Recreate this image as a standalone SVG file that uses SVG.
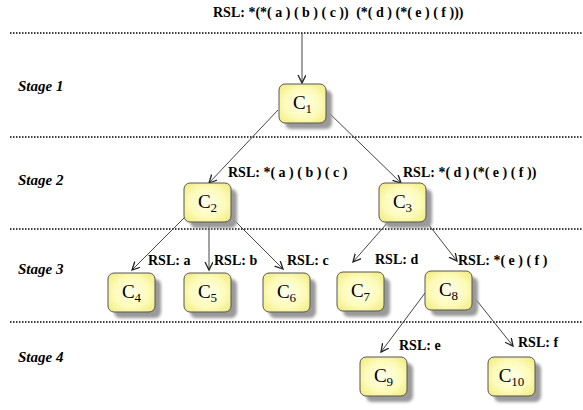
<svg xmlns="http://www.w3.org/2000/svg" width="583" height="410" viewBox="0 0 583 410">
<style>
.sep{stroke:#000;stroke-width:1.5;stroke-dasharray:1.5,1.5;fill:none}
.edge{stroke:#444;stroke-width:1;fill:none}
.box{stroke:#555;stroke-width:1}
.sh{fill:#9a9a9a}
</style>
<defs>
<radialGradient id="yg" cx="0.5" cy="0.5" r="0.7">
<stop offset="0" stop-color="#ffffee"/>
<stop offset="0.55" stop-color="#fdfbb8"/>
<stop offset="1" stop-color="#efe97a"/>
</radialGradient>
<filter id="blur" x="-20%" y="-20%" width="140%" height="140%"><feGaussianBlur stdDeviation="1.8"/></filter>
<marker id="arr" markerWidth="10" markerHeight="10" refX="8" refY="4" orient="auto" markerUnits="userSpaceOnUse">
<path d="M0,0 L8,4 L0,8" fill="none" stroke="#222" stroke-width="1.3"/>
</marker>
</defs>

<g id="separators">
<line class="sep" x1="10" y1="33" x2="583" y2="33"/>
<line class="sep" x1="10" y1="137" x2="583" y2="137"/>
<line class="sep" x1="10" y1="229" x2="583" y2="229"/>
<line class="sep" x1="10" y1="322" x2="583" y2="322"/>
</g>

<g id="stages">
<text x="18" y="91" font-family="Liberation Serif, Noto Serif, DejaVu Serif, serif" font-size="15" font-weight="bold" font-style="italic">Stage 1</text>
<text x="18" y="185" font-family="Liberation Serif, Noto Serif, DejaVu Serif, serif" font-size="15" font-weight="bold" font-style="italic">Stage 2</text>
<text x="18" y="274" font-family="Liberation Serif, Noto Serif, DejaVu Serif, serif" font-size="15" font-weight="bold" font-style="italic">Stage 3</text>
<text x="18" y="362" font-family="Liberation Serif, Noto Serif, DejaVu Serif, serif" font-size="15" font-weight="bold" font-style="italic">Stage 4</text>
</g>

<g id="title">
<text x="213" y="17" font-family="Liberation Serif, Noto Serif, DejaVu Serif, serif" font-size="14" font-weight="bold">RSL: *(*( a ) ( b ) ( c ))<tspan dx="4"> (*( d ) (*( e ) ( f )))</tspan></text>
</g>

<g id="connectors">
<line class="edge" marker-end="url(#arr)" x1="302" y1="33" x2="302" y2="83"/>
<line class="edge" marker-end="url(#arr)" x1="278" y1="110" x2="209" y2="183"/>
<line class="edge" marker-end="url(#arr)" x1="326" y1="110" x2="401" y2="183"/>
<line class="edge" marker-end="url(#arr)" x1="185" y1="217" x2="132" y2="270"/>
<line class="edge" marker-end="url(#arr)" x1="209" y1="222" x2="209" y2="270"/>
<line class="edge" marker-end="url(#arr)" x1="230" y1="216" x2="283" y2="269"/>
<line class="edge" marker-end="url(#arr)" x1="389" y1="221" x2="353" y2="262"/>
<line class="edge" marker-end="url(#arr)" x1="425" y1="220" x2="457" y2="261"/>
<line class="edge" marker-end="url(#arr)" x1="425" y1="293" x2="381" y2="352"/>
<line class="edge" marker-end="url(#arr)" x1="470" y1="292" x2="513" y2="346"/>
</g>

<g id="edge-labels">
<text x="228" y="177" font-family="Liberation Serif, Noto Serif, DejaVu Serif, serif" font-size="14" font-weight="bold">RSL: *( a ) ( b ) ( c )</text>
<text x="403" y="177" font-family="Liberation Serif, Noto Serif, DejaVu Serif, serif" font-size="14" font-weight="bold">RSL: *( d ) (*( e ) ( f ))</text>
<text x="148" y="265" font-family="Liberation Serif, Noto Serif, DejaVu Serif, serif" font-size="14" font-weight="bold">RSL: a</text>
<text x="214" y="265" font-family="Liberation Serif, Noto Serif, DejaVu Serif, serif" font-size="14" font-weight="bold">RSL: b</text>
<text x="287" y="265" font-family="Liberation Serif, Noto Serif, DejaVu Serif, serif" font-size="14" font-weight="bold">RSL: c</text>
<text x="375" y="264" font-family="Liberation Serif, Noto Serif, DejaVu Serif, serif" font-size="14" font-weight="bold">RSL: d</text>
<text x="458" y="265" font-family="Liberation Serif, Noto Serif, DejaVu Serif, serif" font-size="14" font-weight="bold">RSL: *( e ) ( f )</text>
<text x="399" y="350" font-family="Liberation Serif, Noto Serif, DejaVu Serif, serif" font-size="14" font-weight="bold">RSL: e</text>
<text x="518" y="347" font-family="Liberation Serif, Noto Serif, DejaVu Serif, serif" font-size="14" font-weight="bold">RSL: f</text>
</g>

<g id="C1"><rect class="sh" filter="url(#blur)" x="285" y="90" width="47" height="39" rx="6"/><rect class="box" fill="url(#yg)" x="279" y="84" width="47" height="39" rx="6"/><text x="302.5" y="109" font-family="Liberation Serif, Noto Serif, DejaVu Serif, serif" font-size="19" text-anchor="middle">C<tspan font-size="13" dy="4">1</tspan></text></g>
<g id="C2"><rect class="sh" filter="url(#blur)" x="190" y="189" width="47" height="39" rx="6"/><rect class="box" fill="url(#yg)" x="184" y="183" width="47" height="39" rx="6"/><text x="207.5" y="208" font-family="Liberation Serif, Noto Serif, DejaVu Serif, serif" font-size="19" text-anchor="middle">C<tspan font-size="13" dy="4">2</tspan></text></g>
<g id="C3"><rect class="sh" filter="url(#blur)" x="385" y="189" width="47" height="39" rx="6"/><rect class="box" fill="url(#yg)" x="379" y="183" width="47" height="39" rx="6"/><text x="402.5" y="208" font-family="Liberation Serif, Noto Serif, DejaVu Serif, serif" font-size="19" text-anchor="middle">C<tspan font-size="13" dy="4">3</tspan></text></g>
<g id="C4"><rect class="sh" filter="url(#blur)" x="114" y="279" width="47" height="39" rx="6"/><rect class="box" fill="url(#yg)" x="108" y="273" width="47" height="39" rx="6"/><text x="131.5" y="298" font-family="Liberation Serif, Noto Serif, DejaVu Serif, serif" font-size="19" text-anchor="middle">C<tspan font-size="13" dy="4">4</tspan></text></g>
<g id="C5"><rect class="sh" filter="url(#blur)" x="190" y="279" width="47" height="39" rx="6"/><rect class="box" fill="url(#yg)" x="184" y="273" width="47" height="39" rx="6"/><text x="207.5" y="298" font-family="Liberation Serif, Noto Serif, DejaVu Serif, serif" font-size="19" text-anchor="middle">C<tspan font-size="13" dy="4">5</tspan></text></g>
<g id="C6"><rect class="sh" filter="url(#blur)" x="269" y="279" width="47" height="39" rx="6"/><rect class="box" fill="url(#yg)" x="263" y="273" width="47" height="39" rx="6"/><text x="286.5" y="298" font-family="Liberation Serif, Noto Serif, DejaVu Serif, serif" font-size="19" text-anchor="middle">C<tspan font-size="13" dy="4">6</tspan></text></g>
<g id="C7"><rect class="sh" filter="url(#blur)" x="343" y="278" width="47" height="39" rx="6"/><rect class="box" fill="url(#yg)" x="337" y="272" width="47" height="39" rx="6"/><text x="360.5" y="297" font-family="Liberation Serif, Noto Serif, DejaVu Serif, serif" font-size="19" text-anchor="middle">C<tspan font-size="13" dy="4">7</tspan></text></g>
<g id="C8"><rect class="sh" filter="url(#blur)" x="431" y="277" width="47" height="39" rx="6"/><rect class="box" fill="url(#yg)" x="425" y="271" width="47" height="39" rx="6"/><text x="448.5" y="296" font-family="Liberation Serif, Noto Serif, DejaVu Serif, serif" font-size="19" text-anchor="middle">C<tspan font-size="13" dy="4">8</tspan></text></g>
<g id="C9"><rect class="sh" filter="url(#blur)" x="366" y="363" width="47" height="39" rx="6"/><rect class="box" fill="url(#yg)" x="360" y="357" width="47" height="39" rx="6"/><text x="383.5" y="382" font-family="Liberation Serif, Noto Serif, DejaVu Serif, serif" font-size="19" text-anchor="middle">C<tspan font-size="13" dy="4">9</tspan></text></g>
<g id="C10"><rect class="sh" filter="url(#blur)" x="494" y="363" width="47" height="39" rx="6"/><rect class="box" fill="url(#yg)" x="488" y="357" width="47" height="39" rx="6"/><text x="511.5" y="382" font-family="Liberation Serif, Noto Serif, DejaVu Serif, serif" font-size="19" text-anchor="middle">C<tspan font-size="13" dy="4">10</tspan></text></g>
</svg>
